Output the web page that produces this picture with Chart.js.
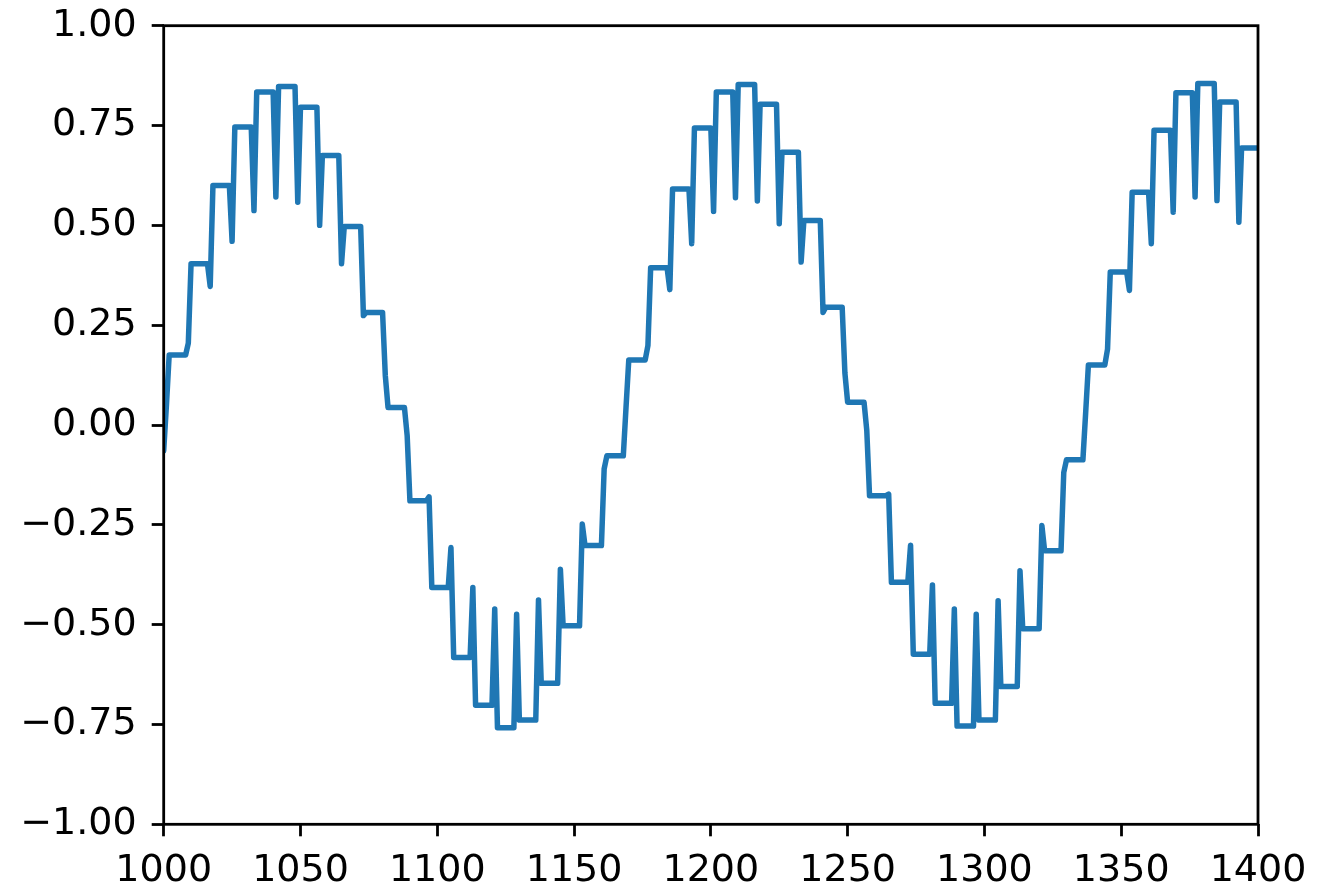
<!DOCTYPE html>
<html>
<head>
<meta charset="utf-8">
<script src="https://cdn.jsdelivr.net/npm/chart.js@4"></script>
<style>
  html, body { margin: 0; padding: 0; background: #fff; }
  #wrap { width: 1329px; height: 892px; }
</style>
</head>
<body>
<div id="wrap"><canvas id="chart" width="1329" height="892"></canvas></div>
<script>
// sample positions where the glitch sample sits (one before each new held level)
const glitchX = [1001, 1009, 1017, 1025, 1033, 1041, 1049, 1057, 1065, 1073,
  1081, 1089, 1097, 1105, 1113, 1121, 1129, 1137, 1145, 1153,
  1161, 1169, 1177, 1185, 1193, 1201, 1209, 1217, 1225, 1233,
  1241, 1249, 1257, 1265, 1273, 1281, 1289, 1297, 1305, 1313,
  1321, 1329, 1337, 1345, 1353, 1361, 1369, 1377, 1385, 1393, 1401];
// value of the glitch sample
const glitchY = [0.05, 0.205, 0.347, 0.460, 0.537, 0.571, 0.558, 0.500, 0.404, 0.274,
  0.124, -0.027, -0.180, -0.307, -0.407, -0.461, -0.474, -0.438, -0.361, -0.248,
  -0.110, 0.045, 0.199, 0.339, 0.454, 0.535, 0.569, 0.561, 0.504, 0.408,
  0.282, 0.130, -0.014, -0.173, -0.301, -0.401, -0.461, -0.474, -0.440, -0.365,
  -0.252, -0.119, 0.03, 0.190, 0.337, 0.454, 0.533, 0.571, 0.562, 0.508, 0.40];
// level held after each glitch
const holdY = [0.175, 0.404, 0.600, 0.746, 0.834, 0.848, 0.796, 0.675, 0.497, 0.282,
  0.044, -0.190, -0.407, -0.582, -0.702, -0.758, -0.739, -0.647, -0.503, -0.302,
  -0.077, 0.163, 0.394, 0.591, 0.744, 0.834, 0.853, 0.803, 0.683, 0.512,
  0.295, 0.057, -0.177, -0.394, -0.574, -0.697, -0.754, -0.739, -0.655, -0.510,
  -0.315, -0.087, 0.150, 0.383, 0.583, 0.738, 0.832, 0.855, 0.809, 0.694, 0.52];
const startX = 1000;
const startY = -0.065;

const xTicks = [1000, 1050, 1100, 1150, 1200, 1250, 1300, 1350, 1400];
const yTicks = [-1, -0.75, -0.5, -0.25, 0, 0.25, 0.5, 0.75, 1];

// build the polyline vertices
const points = [{ x: startX, y: startY }];
glitchX.forEach((gx, i) => {
  points.push({ x: gx, y: glitchY[i] });
  points.push({ x: gx + 1, y: holdY[i] });
  const end = i + 1 < glitchX.length ? glitchX[i + 1] - 1 : gx + 7;
  points.push({ x: end, y: holdY[i] });
});

const font = { family: 'DejaVu Sans', size: 38 };

// matplotlib style frame round the plot area
const frame = {
  id: 'frame',
  afterDraw(chart) {
    const a = chart.chartArea;
    const ctx = chart.ctx;
    ctx.save();
    ctx.strokeStyle = '#000';
    ctx.lineWidth = 2.8;
    ctx.strokeRect(a.left, a.top, a.right - a.left, a.bottom - a.top);
    ctx.restore();
  }
};

new Chart(document.getElementById('chart'), {
  type: 'line',
  data: {
    datasets: [{
      data: points,
      borderColor: '#1f77b4',
      borderWidth: 5.5,
      borderJoinStyle: 'round',
      borderCapStyle: 'round',
      pointRadius: 0,
      tension: 0,
      fill: false,
      clip: 0
    }]
  },
  options: {
    responsive: false,
    animation: false,
    devicePixelRatio: 1,
    layout: { padding: { top: 25.7, right: 71, left: 0, bottom: 0 } },
    plugins: { legend: { display: false }, tooltip: { enabled: false } },
    scales: {
      x: {
        type: 'linear',
        min: 1000,
        max: 1400,
        afterFit: s => { s.height = 67.7; s.paddingLeft = 0; s.paddingRight = 0; },
        afterBuildTicks: s => { s.ticks = xTicks.map(v => ({ value: v })); },
        grid: { drawOnChartArea: false, tickLength: 12, tickWidth: 2.8, tickColor: '#000' },
        border: { display: false },
        ticks: { color: '#000', font: font, padding: 12, autoSkip: false, maxRotation: 0,
          callback: v => String(v) }
      },
      y: {
        min: -1,
        max: 1,
        afterFit: s => { s.width = 163.7; s.paddingTop = 0; s.paddingBottom = 0; },
        afterBuildTicks: s => { s.ticks = yTicks.map(v => ({ value: v })); },
        grid: { drawOnChartArea: false, tickLength: 12, tickWidth: 2.8, tickColor: '#000' },
        border: { display: false },
        ticks: { color: '#000', font: font, padding: 15,
          callback: v => (v < 0 ? '\u2212' : '') + Math.abs(v).toFixed(2) }
      }
    }
  },
  plugins: [frame]
});
</script>
</body>
</html>
